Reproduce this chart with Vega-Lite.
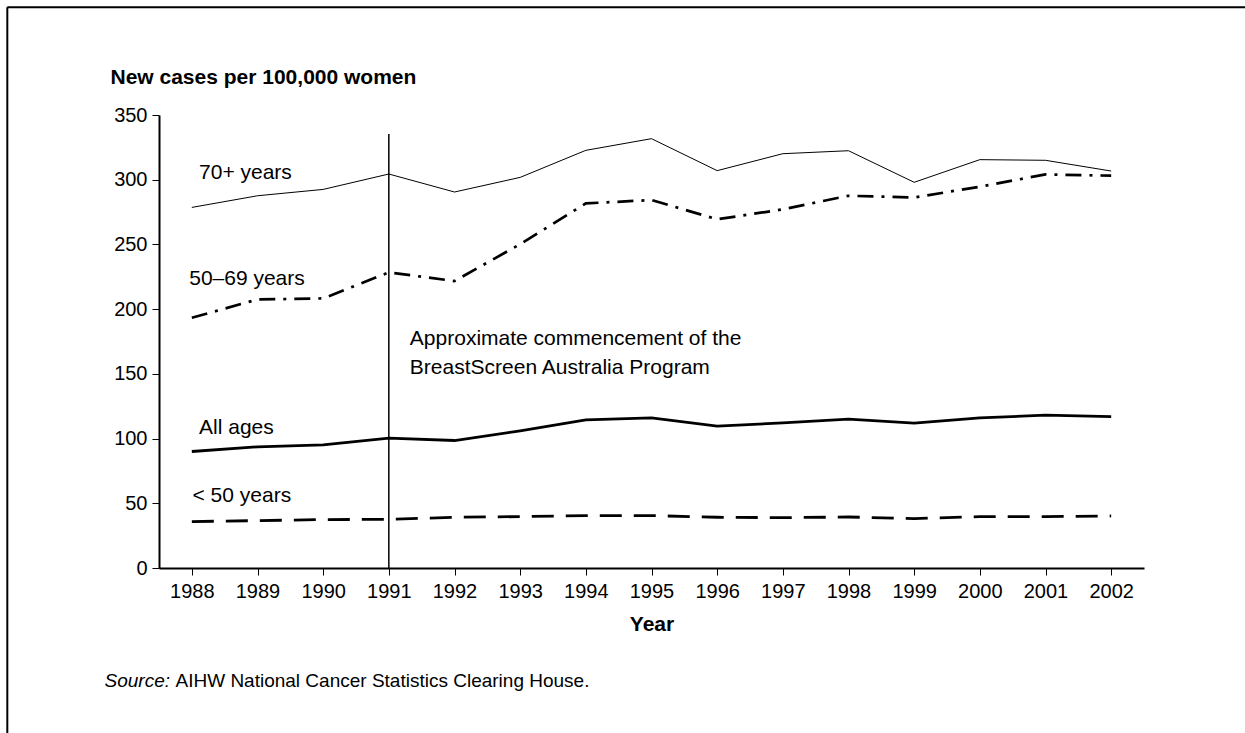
{
  "$schema": "https://vega.github.io/schema/vega-lite/v6.json",
  "width": 985,
  "height": 453,
  "autosize": {"type": "none"},
  "padding": {"left": 159, "top": 115, "right": 101, "bottom": 165},
  "background": "white",
  "config": {
    "view": {"stroke": null},
    "font": "Liberation Sans",
    "axis": {"domainColor": "black", "tickColor": "black", "labelColor": "black", "titleColor": "black", "grid": false}
  },
  "datasets": {
    "rates": [
      {"year": 1988, "series": "70+", "rate": 278.6}, {"year": 1989, "series": "70+", "rate": 287.6}, {"year": 1990, "series": "70+", "rate": 292.5},
      {"year": 1991, "series": "70+", "rate": 304.4}, {"year": 1992, "series": "70+", "rate": 290.5}, {"year": 1993, "series": "70+", "rate": 301.8},
      {"year": 1994, "series": "70+", "rate": 322.7}, {"year": 1995, "series": "70+", "rate": 331.7}, {"year": 1996, "series": "70+", "rate": 307.0},
      {"year": 1997, "series": "70+", "rate": 320.1}, {"year": 1998, "series": "70+", "rate": 322.4}, {"year": 1999, "series": "70+", "rate": 298.0},
      {"year": 2000, "series": "70+", "rate": 315.5}, {"year": 2001, "series": "70+", "rate": 315.0}, {"year": 2002, "series": "70+", "rate": 306.7},
      {"year": 1988, "series": "50-69", "rate": 193.3}, {"year": 1989, "series": "50-69", "rate": 207.5}, {"year": 1990, "series": "50-69", "rate": 208.3},
      {"year": 1991, "series": "50-69", "rate": 228.4}, {"year": 1992, "series": "50-69", "rate": 221.7}, {"year": 1993, "series": "50-69", "rate": 250.2},
      {"year": 1994, "series": "50-69", "rate": 281.7}, {"year": 1995, "series": "50-69", "rate": 284.3}, {"year": 1996, "series": "50-69", "rate": 269.4},
      {"year": 1997, "series": "50-69", "rate": 277.1}, {"year": 1998, "series": "50-69", "rate": 287.6}, {"year": 1999, "series": "50-69", "rate": 286.3},
      {"year": 2000, "series": "50-69", "rate": 294.6}, {"year": 2001, "series": "50-69", "rate": 304.1}, {"year": 2002, "series": "50-69", "rate": 303.1},
      {"year": 1988, "series": "All", "rate": 90.0}, {"year": 1989, "series": "All", "rate": 93.6}, {"year": 1990, "series": "All", "rate": 95.1},
      {"year": 1991, "series": "All", "rate": 100.3}, {"year": 1992, "series": "All", "rate": 98.5}, {"year": 1993, "series": "All", "rate": 105.9},
      {"year": 1994, "series": "All", "rate": 114.4}, {"year": 1995, "series": "All", "rate": 116.0}, {"year": 1996, "series": "All", "rate": 109.6},
      {"year": 1997, "series": "All", "rate": 112.1}, {"year": 1998, "series": "All", "rate": 115.0}, {"year": 1999, "series": "All", "rate": 111.9},
      {"year": 2000, "series": "All", "rate": 116.0}, {"year": 2001, "series": "All", "rate": 118.1}, {"year": 2002, "series": "All", "rate": 117.0},
      {"year": 1988, "series": "<50", "rate": 35.9}, {"year": 1989, "series": "<50", "rate": 36.6}, {"year": 1990, "series": "<50", "rate": 37.4},
      {"year": 1991, "series": "<50", "rate": 37.6}, {"year": 1992, "series": "<50", "rate": 39.2}, {"year": 1993, "series": "<50", "rate": 39.7},
      {"year": 1994, "series": "<50", "rate": 40.5}, {"year": 1995, "series": "<50", "rate": 40.5}, {"year": 1996, "series": "<50", "rate": 39.2},
      {"year": 1997, "series": "<50", "rate": 38.9}, {"year": 1998, "series": "<50", "rate": 39.4}, {"year": 1999, "series": "<50", "rate": 38.2},
      {"year": 2000, "series": "<50", "rate": 39.7}, {"year": 2001, "series": "<50", "rate": 39.7}, {"year": 2002, "series": "<50", "rate": 40.2}
    ],
    "notes": [
      {"label": "70+ years", "year": 1988.11, "rate": 305.4},
      {"label": "50–69 years", "year": 1987.96, "rate": 223.2},
      {"label": "All ages", "year": 1988.11, "rate": 108.2},
      {"label": "< 50 years", "year": 1988.01, "rate": 55.7},
      {"label": "Approximate commencement of the", "year": 1991.32, "rate": 176.8},
      {"label": "BreastScreen Australia Program", "year": 1991.32, "rate": 154.6}
    ],
    "one": [{}]
  },
  "layer": [
    {
      "data": {"name": "rates"},
      "transform": [{"filter": "datum.series === '70+'"}],
      "mark": {"type": "line", "color": "black", "strokeWidth": 1},
      "encoding": {
        "x": {"field": "year", "type": "quantitative", "scale": {"domain": [1987.5, 2002.5], "nice": false, "zero": false},
          "axis": {"values": [1988, 1989, 1990, 1991, 1992, 1993, 1994, 1995, 1996, 1997, 1998, 1999, 2000, 2001, 2002], "format": "d",
            "tickSize": 7, "tickWidth": 1, "domainWidth": 2, "labelFontSize": 20, "labelPadding": 6,
            "title": "Year", "titleFontSize": 21, "titleFontWeight": "bold", "titlePadding": 12}},
        "y": {"field": "rate", "type": "quantitative", "scale": {"domain": [0, 350], "nice": false},
          "axis": {"values": [0, 50, 100, 150, 200, 250, 300, 350], "tickSize": 7, "tickWidth": 1, "domainWidth": 2,
            "labelFontSize": 20, "labelPadding": 5,
            "title": "New cases per 100,000 women", "titleAngle": 0, "titleAlign": "left", "titleBaseline": "middle",
            "titleX": -49, "titleY": -38, "titleFontSize": 21, "titleFontWeight": "bold"}}
      }
    },
    {
      "data": {"name": "rates"},
      "transform": [{"filter": "datum.series === '50-69'"}],
      "mark": {"type": "line", "color": "black", "strokeWidth": 2.7, "strokeDash": [16, 8, 3, 8]},
      "encoding": {
        "x": {"field": "year", "type": "quantitative"},
        "y": {"field": "rate", "type": "quantitative"}
      }
    },
    {
      "data": {"name": "rates"},
      "transform": [{"filter": "datum.series === 'All'"}],
      "mark": {"type": "line", "color": "black", "strokeWidth": 2.8},
      "encoding": {
        "x": {"field": "year", "type": "quantitative"},
        "y": {"field": "rate", "type": "quantitative"}
      }
    },
    {
      "data": {"name": "rates"},
      "transform": [{"filter": "datum.series === '<50'"}],
      "mark": {"type": "line", "color": "black", "strokeWidth": 2.8, "strokeDash": [22, 12]},
      "encoding": {
        "x": {"field": "year", "type": "quantitative"},
        "y": {"field": "rate", "type": "quantitative"}
      }
    },
    {
      "data": {"name": "one"},
      "mark": {"type": "rule", "color": "black", "strokeWidth": 1.5},
      "encoding": {
        "x": {"datum": 1991, "type": "quantitative"},
        "y": {"datum": 0, "type": "quantitative"},
        "y2": {"datum": 335.3}
      }
    },
    {
      "data": {"name": "notes"},
      "mark": {"type": "text", "align": "left", "baseline": "middle", "fontSize": 21, "color": "black", "clip": false},
      "encoding": {
        "x": {"field": "year", "type": "quantitative"},
        "y": {"field": "rate", "type": "quantitative"},
        "text": {"field": "label"}
      }
    },
    {
      "data": {"name": "one"},
      "mark": {"type": "text", "text": "Source:", "fontStyle": "italic", "align": "left", "baseline": "middle", "fontSize": 19, "color": "black", "clip": false},
      "encoding": {
        "x": {"datum": 1986.67, "type": "quantitative"},
        "y": {"datum": -87.6, "type": "quantitative"}
      }
    },
    {
      "data": {"name": "one"},
      "mark": {"type": "text", "text": "AIHW National Cancer Statistics Clearing House.", "align": "left", "baseline": "middle", "fontSize": 19, "dx": 71, "color": "black", "clip": false},
      "encoding": {
        "x": {"datum": 1986.67, "type": "quantitative"},
        "y": {"datum": -87.6, "type": "quantitative"}
      }
    },
    {
      "data": {"name": "one"},
      "mark": {"type": "rule", "color": "black", "strokeWidth": 2, "clip": false},
      "encoding": {
        "x": {"datum": 1985.19, "type": "quantitative"},
        "x2": {"datum": 2004.3},
        "y": {"datum": 433.3, "type": "quantitative"}
      }
    },
    {
      "data": {"name": "one"},
      "mark": {"type": "rule", "color": "black", "strokeWidth": 2, "clip": false},
      "encoding": {
        "x": {"datum": 1985.19, "type": "quantitative"},
        "y": {"datum": 433.3, "type": "quantitative"},
        "y2": {"datum": -135}
      }
    }
  ]
}
